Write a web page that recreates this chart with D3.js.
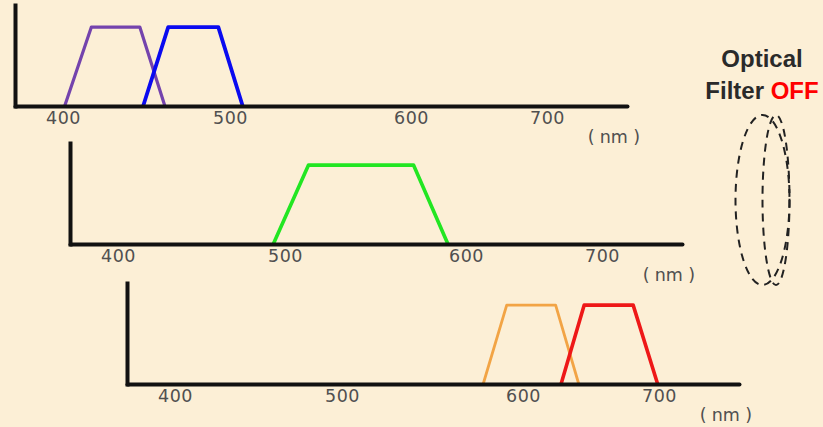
<!DOCTYPE html>
<html>
<head>
<meta charset="utf-8">
<script src="https://cdn.jsdelivr.net/npm/d3@7"></script>
<style>
  html, body { margin: 0; padding: 0; background: #fcefd6; }
  svg { display: block; }
</style>
</head>
<body>
<svg id="chart" width="823" height="427"></svg>
<script>
// ---- data ----
const tickValues = [400, 500, 600, 700];
const unitParts = ["(", "nm", " )"];
const transmission = [0, 100, 100, 0];
const violetNm = [401, 417, 446, 461];
const blueNm   = [448, 463, 493, 507];
const greenNm  = [493, 513, 571, 590];
const orangeNm = [578, 591, 624, 641];
const redNm    = [628, 645, 681, 699];
const panelSeries = [["violet", "blue"], ["green"], ["orange", "red"]];
const titleLine1 = "Optical";
const titleLine2a = "Filter ";
const titleLine2b = "OFF";

// ---- styles / layout ----
const seriesData = { violet: violetNm, blue: blueNm, green: greenNm, orange: orangeNm, red: redNm };
const seriesColor = { violet: "#7443ad", blue: "#0a0af0", green: "#22e622", orange: "#f2a445", red: "#ee1818" };
const seriesWidth = { violet: 3.2, blue: 3.8, green: 3.6, orange: 2.8, red: 3.6 };
const panelOffsets = [[0, 0], [55, 138], [112, 278]];

const svg = d3.select("#chart");

// the original drawing has unevenly spaced ticks, so use a piecewise scale
const x = d3.scaleLinear()
  .domain([371, 400, 500, 600, 700, 759])
  .range([15, 63, 230, 411, 547, 627]);
const y = d3.scaleLinear().domain([0, 128]).range([106, 5]);

const line = d3.line().x(d => x(d[0])).y(d => y(d[1]));

panelSeries.forEach((names, i) => {
  const [dx, dy] = panelOffsets[i];
  const g = svg.append("g").attr("transform", `translate(${dx},${dy})`);

  names.forEach(n => {
    const pts = seriesData[n].map((w, k) => [w, transmission[k]]);
    g.append("path")
      .datum(pts)
      .attr("d", line)
      .attr("fill", "none")
      .attr("stroke", seriesColor[n])
      .attr("stroke-width", seriesWidth[n])
      .attr("stroke-linejoin", "round");
  });

  const xa = g.append("g")
    .attr("transform", `translate(0,${y(0)})`)
    .call(d3.axisBottom(x).tickValues(tickValues).tickSize(0).tickSizeOuter(0).tickPadding(6).tickFormat(d3.format("d")));
  xa.select(".domain").attr("stroke", "#111").attr("stroke-width", 4).attr("stroke-linecap", "round");
  xa.selectAll("text")
    .attr("fill", "#505050")
    .attr("font-family", "DejaVu Sans, Verdana, sans-serif")
    .attr("font-size", 17.5)
    .attr("letter-spacing", 0.5);

  const ya = g.append("g")
    .attr("transform", `translate(${x(371)},0)`)
    .call(d3.axisLeft(y).tickValues([]).tickSizeOuter(0));
  ya.select(".domain").attr("stroke", "#111").attr("stroke-width", 4).attr("stroke-linecap", "square");

  const ut = g.append("text")
    .attr("x", 614)
    .attr("y", 143)
    .attr("text-anchor", "middle")
    .attr("fill", "#505050")
    .attr("font-family", "DejaVu Sans, Verdana, sans-serif")
    .attr("font-size", 17.5);
  ut.append("tspan").text(unitParts[0]);
  ut.append("tspan").attr("dx", 5).text(unitParts[1]);
  ut.append("tspan").text(unitParts[2]);
});

// annotation
const ann = svg.append("g");
ann.append("text")
  .attr("x", 762).attr("y", 67)
  .attr("text-anchor", "middle")
  .attr("font-family", "Liberation Sans, Arial, sans-serif")
  .attr("font-weight", "bold")
  .attr("font-size", 24)
  .attr("fill", "#2a2a2a")
  .text(titleLine1);
const t2 = ann.append("text")
  .attr("x", 762).attr("y", 99)
  .attr("text-anchor", "middle")
  .attr("font-family", "Liberation Sans, Arial, sans-serif")
  .attr("font-weight", "bold")
  .attr("font-size", 24)
  .attr("fill", "#2a2a2a");
t2.append("tspan").text(titleLine2a);
t2.append("tspan").attr("fill", "#ff0000").text(titleLine2b);

// dashed lens outline
ann.append("ellipse")
  .attr("cx", 762.5).attr("cy", 200).attr("rx", 27).attr("ry", 85)
  .attr("fill", "none").attr("stroke", "#222").attr("stroke-width", 2)
  .attr("stroke-dasharray", "8,6");
ann.append("ellipse")
  .attr("cx", 776).attr("cy", 200).attr("rx", 13.5).attr("ry", 85)
  .attr("fill", "none").attr("stroke", "#222").attr("stroke-width", 2)
  .attr("stroke-dasharray", "8,6");
</script>
</body>
</html>
